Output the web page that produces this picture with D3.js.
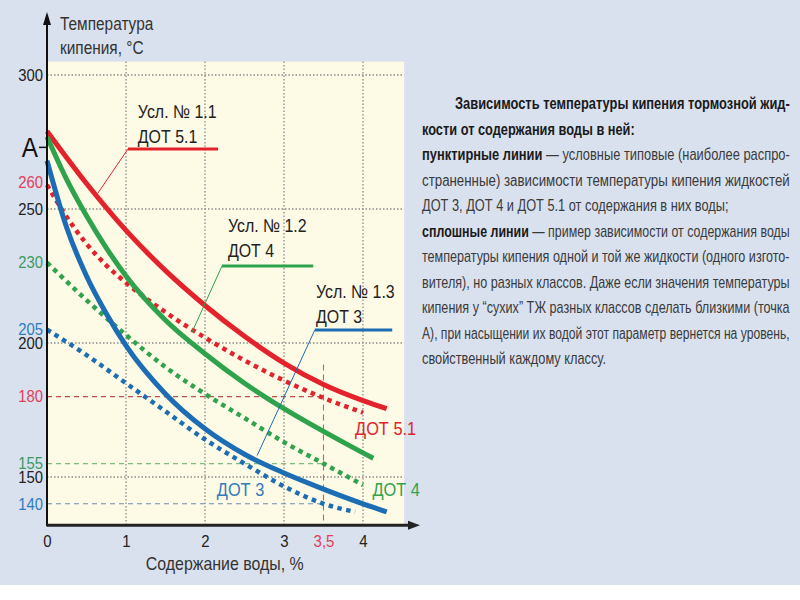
<!doctype html>
<html>
<head>
<meta charset="utf-8">
<script src="https://d3js.org/d3.v7.min.js"></script>
<style>
  body { margin: 0; background: #fff; }
  svg { display: block; }
</style>
</head>
<body>
<svg id="chart" width="800" height="600"></svg>
<script>
// water content, % (x) and boiling point, °C (y)
var red11X   = [0, 0.5, 1, 1.5, 2, 2.5, 3, 3.5, 4, 4.3];
var red11Y   = [279, 259.5, 242, 227, 214, 202.5, 192.5, 184.5, 178.5, 175.5];
var green12X = [0, 0.25, 0.5, 0.75, 1, 1.5, 2, 2.5, 3, 3.5, 4, 4.13];
var green12Y = [277, 261, 247.5, 235.5, 225, 208.5, 196, 185, 175.5, 167, 159, 157];
var blue13X  = [0, 0.25, 0.5, 0.75, 1, 1.5, 2, 2.5, 3, 3.5, 4, 4.3];
var blue13Y  = [268, 243, 225, 211, 199, 181, 168, 158.5, 151.5, 145.5, 140, 137];

var dot51X = [0, 0.25, 0.5, 0.75, 1, 1.5, 2, 2.5, 3, 3.5, 4];
var dot51Y = [259, 247, 237, 229, 222.5, 211.5, 202, 193.5, 186, 179.5, 174];
var dot4X  = [0, 0.5, 1, 1.5, 2, 2.5, 3, 3.5, 4];
var dot4Y  = [230, 216, 203, 191, 181, 172, 163, 155, 147];
var dot3X  = [0, 0.5, 1, 1.5, 2, 2.5, 3, 3.5, 3.9];
var dot3Y  = [205, 195.5, 185, 174.5, 164, 155, 146.5, 140, 137];

var xTicks = [0, 1, 2, 3, 3.5, 4];
var yTicks = [300, 260, 250, 230, 205, 200, 180, 155, 150, 140];
var gridX = [1, 2, 3, 4];
var gridY = [300, 250, 200, 150];
var pointA = 273;

var RED = "#e3222c", GREEN = "#2ea34c", BLUE = "#1c6db4";
var FONT = "'Liberation Sans', Arial, sans-serif";

var tickColor = {260: "#e0405a", 230: "#3c9a62", 205: "#2f7cbc", 180: "#e0405a", 155: "#3c9a62", 140: "#2f7cbc"};

var svg = d3.select("#chart");

var x = d3.scaleLinear().domain([0, 4]).range([47, 363]);
var y = d3.scaleLinear().domain([150, 300]).range([477, 75]);
var yBottom = 132, yTop = 305, xRight = 4.52;

// narrow the glyphs, the picture uses a condensed face
function squeeze(sel, r) {
  sel.each(function () {
    var w = this.getComputedTextLength();
    d3.select(this).attr("textLength", w * r).attr("lengthAdjust", "spacingAndGlyphs");
  });
}

// backgrounds
svg.append("rect").attr("width", 800).attr("height", 585).attr("fill", "#d9e1ef");
svg.append("rect")
  .attr("x", x(0)).attr("y", y(yTop))
  .attr("width", x(xRight) - x(0)).attr("height", y(yBottom) - y(yTop))
  .attr("fill", "#fdfae6");

// dotted grid
svg.selectAll("line.gx").data(gridX).enter().append("line")
  .attr("x1", d => x(d)).attr("x2", d => x(d))
  .attr("y1", y(yTop)).attr("y2", y(yBottom))
  .attr("stroke", "#8c8c8c").attr("stroke-width", 1.3).attr("stroke-dasharray", "1.5,2");
svg.selectAll("line.gy").data(gridY).enter().append("line")
  .attr("x1", x(0)).attr("x2", x(xRight))
  .attr("y1", d => y(d)).attr("y2", d => y(d))
  .attr("stroke", "#8c8c8c").attr("stroke-width", 1.3).attr("stroke-dasharray", "1.5,2");

// dashed reference lines at 3.5 %
var refs = [[180, "#b8514f"], [155, "#7cbf7c"], [140, "#6f8fb0"]];
svg.selectAll("line.ref").data(refs).enter().append("line")
  .attr("x1", x(0)).attr("x2", x(3.5))
  .attr("y1", d => y(d[0])).attr("y2", d => y(d[0]))
  .attr("stroke", d => d[1]).attr("stroke-width", 1.1).attr("stroke-dasharray", "5,4");
svg.append("line")
  .attr("x1", x(3.5)).attr("x2", x(3.5)).attr("y1", y(192)).attr("y2", y(yBottom))
  .attr("stroke", "#c8606a").attr("stroke-width", 1.1).attr("stroke-dasharray", "6,4");

// curves
var line = d3.line().x(d => x(d[0])).y(d => y(d[1])).curve(d3.curveMonotoneX);
function zip(a, b) { return a.map((v, i) => [v, b[i]]); }

var dotted = [[dot51X, dot51Y, RED], [dot4X, dot4Y, GREEN], [dot3X, dot3Y, BLUE]];
var solid  = [[red11X, red11Y, RED], [green12X, green12Y, GREEN], [blue13X, blue13Y, BLUE]];

svg.selectAll("path.dotted").data(dotted).enter().append("path")
  .attr("d", d => line(zip(d[0], d[1])))
  .attr("fill", "none").attr("stroke", d => d[2])
  .attr("stroke-width", 4.5).attr("stroke-dasharray", "4.5,4.5");
svg.selectAll("path.solid").data(solid).enter().append("path")
  .attr("d", d => line(zip(d[0], d[1])))
  .attr("fill", "none").attr("stroke", d => d[2]).attr("stroke-width", 5);

// axes
var xAxis = svg.append("g").attr("transform", "translate(0," + y(yBottom) + ")")
  .call(d3.axisBottom(x).tickValues(xTicks).tickSize(0).tickPadding(10)
    .tickFormat(d => d === 3.5 ? "3,5" : d));
xAxis.select(".domain").remove();
xAxis.selectAll("text").attr("font-family", FONT).attr("font-size", 17)
  .attr("fill", d => d === 3.5 ? "#e0405a" : "#222").call(squeeze, 0.88);

var yAxis = svg.append("g").attr("transform", "translate(" + x(0) + ",0)")
  .call(d3.axisLeft(y).tickValues(yTicks).tickSize(0).tickPadding(4));
yAxis.select(".domain").remove();
yAxis.selectAll("text").attr("font-family", FONT).attr("font-size", 16.5)
  .attr("fill", d => tickColor[d] || "#222").call(squeeze, 0.9);

svg.append("line").attr("x1", x(0)).attr("x2", x(0)).attr("y1", 22).attr("y2", y(yBottom) + 1)
  .attr("stroke", "#111").attr("stroke-width", 2);
svg.append("path").attr("d", "M" + x(0) + ",12l-4,13h8z").attr("fill", "#111");
svg.append("line").attr("x1", x(0)).attr("x2", 410).attr("y1", y(yBottom)).attr("y2", y(yBottom))
  .attr("stroke", "#222").attr("stroke-width", 3);
svg.append("path").attr("d", "M420," + y(yBottom) + "l-12,-4.5v9z").attr("fill", "#222");

// point A
svg.append("line").attr("x1", x(0) - 8).attr("x2", x(0)).attr("y1", y(pointA)).attr("y2", y(pointA))
  .attr("stroke", "#111").attr("stroke-width", 1.5);
svg.append("text").attr("x", x(0) - 9).attr("y", y(pointA) + 10)
  .attr("text-anchor", "end").attr("font-family", FONT).attr("font-size", 27)
  .attr("fill", "#111").text("A").call(squeeze, 0.9);

// axis titles
svg.append("text").attr("x", 60).attr("y", 30).attr("font-family", FONT)
  .attr("font-size", 17.5).attr("fill", "#333").text("Температура").call(squeeze, 0.88);
svg.append("text").attr("x", 60).attr("y", 54).attr("font-family", FONT)
  .attr("font-size", 17.5).attr("fill", "#333").text("кипения, °С").call(squeeze, 0.88);
svg.append("text").attr("x", x(2.25)).attr("y", 570).attr("text-anchor", "middle")
  .attr("font-family", FONT).attr("font-size", 18.5).attr("fill", "#333")
  .text("Содержание воды, %").call(squeeze, 0.86);

// callouts: label lines, text x, first baseline, underline [x0, x1, y], leader end [x, y], colour
var callouts = [
  [["Усл. № 1.1", "ДОТ 5.1"], 1.15, 118, [1.025, 2.165, 149], [0.646, 256], RED],
  [["Усл. № 1.2", "ДОТ 4"],  2.29, 232, [2.215, 3.37, 266], [1.835, 204], GREEN],
  [["Усл. № 1.3", "ДОТ 3"],  3.405, 298, [3.39, 4.37, 330], [2.66, 158], BLUE]
];
callouts.forEach(function (c) {
  var g = svg.append("g");
  c[0].forEach(function (t, i) {
    g.append("text").attr("x", x(c[1])).attr("y", c[2] + i * 25)
      .attr("font-family", FONT).attr("font-size", 18.5).attr("fill", "#222")
      .text(t).call(squeeze, 0.86);
  });
  var u = c[3];
  g.append("line").attr("x1", x(u[0])).attr("x2", x(u[1])).attr("y1", u[2]).attr("y2", u[2])
    .attr("stroke", c[5]).attr("stroke-width", 3);
  g.append("line").attr("x1", x(u[0])).attr("x2", x(c[4][0])).attr("y1", u[2]).attr("y2", y(c[4][1]))
    .attr("stroke", c[5]).attr("stroke-width", 1);
});

// end labels of dotted curves
var endLabels = [["ДОТ 5.1", 3.9, 165.5, RED], ["ДОТ 4", 4.12, 143, GREEN], ["ДОТ 3", 2.15, 143, "#2f7cbc"]];
svg.selectAll("text.endl").data(endLabels).enter().append("text")
  .attr("x", d => x(d[1])).attr("y", d => y(d[2]))
  .attr("font-family", FONT).attr("font-size", 19).attr("fill", d => d[3])
  .text(d => d[0]).call(squeeze, 0.86);

// description block on the right
var para = [
  [[["Зависимость температуры кипения тормозной жид-", 1]], 455, true],
  [[["кости от содержания воды в ней:", 1]], 422, false],
  [[["пунктирные линии", 1], [" — условные типовые (наиболее распро-", 0]], 422, true],
  [[["страненные) зависимости температуры кипения жидкостей", 0]], 422, true],
  [[["ДОТ 3, ДОТ 4 и ДОТ 5.1 от содержания в них воды;", 0]], 422, false],
  [[["сплошные линии", 1], [" — пример зависимости от содержания воды", 0]], 422, true],
  [[["температуры кипения одной и той же жидкости (одного изгото-", 0]], 422, true],
  [[["вителя), но разных классов. Даже если значения температуры", 0]], 422, true],
  [[["кипения у \u201Cсухих\u201D ТЖ разных классов сделать близкими (точка", 0]], 422, true],
  [[["А), при насыщении их водой этот параметр вернется на уровень,", 0]], 422, true],
  [[["свойственный каждому классу.", 0]], 422, false]
];
var lineY = [109, 135, 160, 185.5, 211, 236.5, 262, 287.5, 313, 338.5, 364];
para.forEach(function (p, i) {
  var t = svg.append("text").attr("x", 0).attr("y", 0)
    .attr("font-family", FONT).attr("font-size", 16).attr("fill", "#3a3a3a");
  p[0].forEach(function (s) {
    t.append("tspan").attr("font-weight", s[1] ? "bold" : "normal")
      .attr("fill", s[1] ? "#1a1a1a" : "#3a3a3a").text(s[0]);
  });
  var w = t.node().getComputedTextLength();
  var sx = p[2] ? (790 - p[1]) / w : 0.8;
  t.attr("transform", "translate(" + p[1] + "," + lineY[i] + ") scale(" + sx + ",1)");
});
</script>
</body>
</html>
